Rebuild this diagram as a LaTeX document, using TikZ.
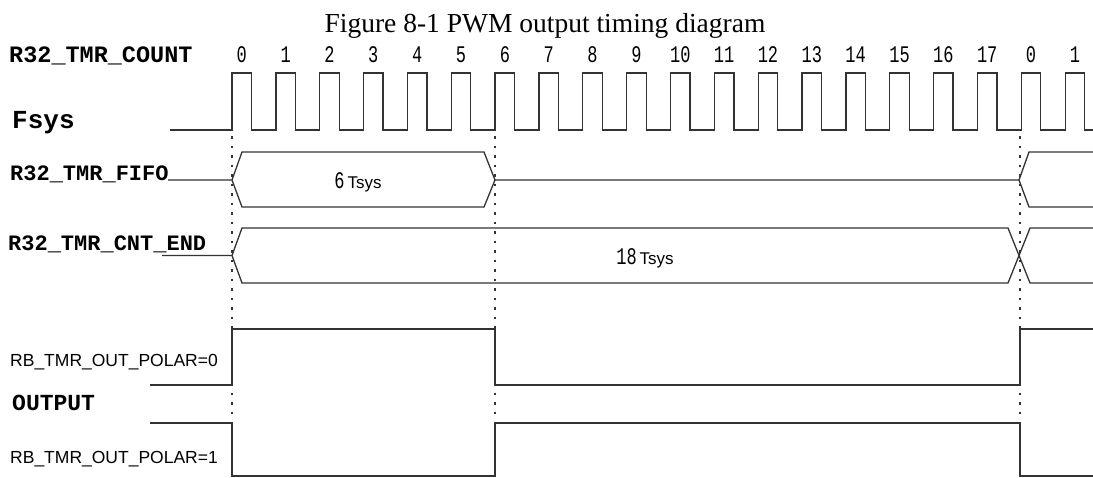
\documentclass[tikz,border=0pt]{standalone}
\usepackage{fontspec}
\setmainfont{Liberation Serif}
\setsansfont{Liberation Sans}
\setmonofont{Liberation Mono}
\usetikzlibrary{positioning}

% tall narrow digits of the counter row
\newcommand{\cntnum}[1]{\scalebox{1}[1.4]{\fontsize{17}{17}\selectfont\ttfamily #1}}

\begin{document}
\begin{tikzpicture}[x=1pt,y=-1pt,
    wave/.style={draw=black!80,line width=1.3pt,line join=miter},
    guide/.style={draw=black!80,line width=1.4pt,dash pattern=on 2.5pt off 7pt},
    sig/.style={anchor=base west,inner sep=0pt,font=\fontsize{22}{22}\selectfont\ttfamily\bfseries},
    pol/.style={anchor=base west,inner sep=0pt,font=\fontsize{17.5}{17.5}\selectfont\sffamily},
    dur/.style={inner sep=0pt,font=\fontsize{17}{17}\selectfont\sffamily}]
  \useasboundingbox (0,0) rectangle (1093,477);
  \def\xo{232} \def\per{43.85} \def\pw{19.5}

  \node[anchor=base,inner sep=0pt,font=\fontsize{27.5}{27.5}\selectfont] (title) at (545,32) {Figure 8-1 PWM output timing diagram};

  % signal names
  \node[sig,font=\fontsize{23.5}{23.5}\selectfont\ttfamily\bfseries] (count) at (9,62) {R32\_TMR\_COUNT};
  \node[sig,font=\fontsize{26}{26}\selectfont\ttfamily\bfseries] (fsys) at (12,128) {Fsys};
  \node[sig] (fifo) at (10,180) {R32\_TMR\_FIFO};
  \node[sig] (cntend) at (8,250) {R32\_TMR\_CNT\_END};
  \node[pol] (polar0) at (10,366.5) {RB\_TMR\_OUT\_POLAR=0};
  \node[sig,font=\fontsize{23}{23}\selectfont\ttfamily\bfseries] (output) at (12,410) {OUTPUT};
  \node[pol] (polar1) at (10,463.5) {RB\_TMR\_OUT\_POLAR=1};

  % counter values
  \foreach \v [count=\k from 0] in {0,1,2,3,4,5,6,7,8,9,10,11,12,13,14,15,16,17,0,1}
    \node[inner sep=0pt] (c\k) at ({\xo+\k*\per+\pw/2},55) {\cntnum{\v}};

  % clock
  \draw[wave] (170,130) foreach \k in {0,...,19} {
      -- ({\xo+\k*\per},130) -- ++(0,-57) -- ++(\pw,0) -- ++(0,57) } -- (1093,130);

  % guides
  \foreach \gx in {232,495,1020}
    \draw[guide] (\gx,136) -- (\gx,416);

  % R32_TMR_FIFO
  \draw[wave] (168,180) -- (232,180) -- (242,152) -- (484,152) -- (495,180) -- (1019,180) -- (1029,152) -- (1093,152);
  \draw[wave] (232,180) -- (242,207) -- (484,207) -- (495,180);
  \draw[wave] (1019,180) -- (1029,207) -- (1093,207);
  \node[dur] (fifot) at (358,182) {\cntnum{6}\,Tsys};

  % R32_TMR_CNT_END
  \draw[wave] (162,255.5) -- (232,255.5) -- (242,228) -- (1008,228) -- (1030,283) -- (1093,283);
  \draw[wave] (232,255.5) -- (242,283) -- (1008,283) -- (1030,228) -- (1093,228);
  \node[dur] (cntt) at (645,258) {\cntnum{18}\,Tsys};

  % outputs
  \draw[wave] (150,385) -- (232,385) -- (232,329) -- (495,329) -- (495,385) -- (1020,385) -- (1020,329) -- (1093,329);
  \draw[wave] (150,423) -- (232,423) -- (232,476) -- (495,476) -- (495,423) -- (1020,423) -- (1020,476) -- (1093,476);
\end{tikzpicture}
\end{document}
